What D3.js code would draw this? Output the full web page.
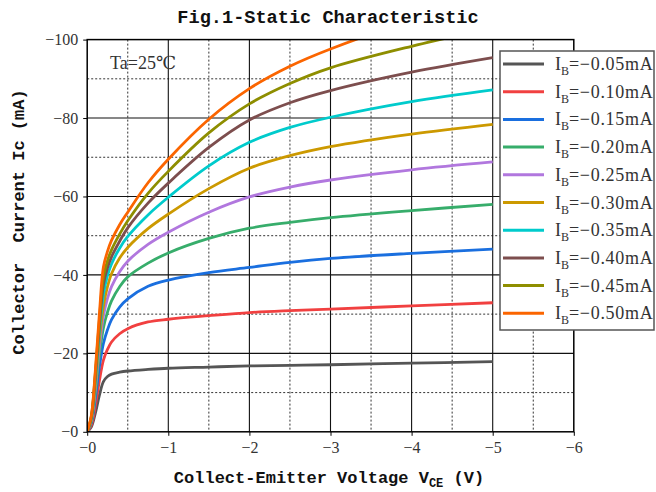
<!DOCTYPE html>
<html><head><meta charset="utf-8">
<script src="https://cdn.jsdelivr.net/npm/d3@7"></script>
<style>body{margin:0;background:#fff;} svg{display:block;}</style>
</head><body><svg id="c" width="656" height="492"></svg>
<script>
// Collector-emitter voltage (V)
const vce = [0, -0.05, -0.1, -0.15, -0.2, -0.25, -0.3, -0.4, -0.5, -0.75, -1, -1.5, -2, -2.5, -3, -4, -5];
// Collector current (mA) for each base current
const ib005 = [0, -1.2, -4.7, -9.3, -12.8, -14.1, -14.7, -15.2, -15.5, -15.9, -16.2, -16.5, -16.8, -16.95, -17.1, -17.5, -17.9];
const ib010 = [0, -1.6, -6.5, -13, -18.3, -21, -22.9, -25, -26.3, -28, -28.7, -29.6, -30.4, -30.9, -31.3, -32.1, -32.9];
const ib015 = [0, -2.2, -8.5, -16.5, -22.5, -26, -28.6, -31.8, -33.9, -37.1, -38.7, -40.6, -41.9, -43.2, -44.2, -45.5, -46.6];
const ib020 = [0, -2.6, -10, -19.5, -26.5, -30.5, -33.4, -37, -39.5, -43, -45.6, -49.3, -51.9, -53.4, -54.6, -56.4, -58];
const ib025 = [0, -2.9, -11, -21.5, -29.5, -34, -37, -40.8, -43.5, -47.8, -50.9, -56, -59.9, -62.4, -64.2, -66.8, -68.8];
const ib030 = [0, -3.1, -12, -23.5, -32, -37, -40.3, -44.3, -47, -51.8, -55.5, -62, -67.2, -70.4, -72.7, -75.9, -78.4];
const ib035 = [0, -3.4, -13, -25.5, -35, -39.8, -42.8, -46.8, -49.8, -55.3, -59.8, -67.8, -73.8, -77.6, -80.2, -84.2, -87.2];
const ib040 = [0, -3.6, -14, -27, -37.5, -41.8, -44.6, -48.6, -52, -58.3, -63.4, -72.5, -79.5, -83.9, -87, -91.7, -95.4];
const ib045 = [0, -3.8, -14.8, -28.5, -39.5, -43.6, -46.4, -50.4, -53.8, -60.8, -66.4, -76.2, -83.6, -88.8, -92.8, -98.3, -103];
const ib050 = [0, -4, -15.5, -30, -42, -46, -48.8, -52.8, -56, -63.5, -69.5, -79.7, -87.5, -93.2, -97.6, -104.8, -110];
const seriesValues = [ib005, ib010, ib015, ib020, ib025, ib030, ib035, ib040, ib045, ib050];
const seriesLabels = ["=\u22120.05mA", "=\u22120.10mA", "=\u22120.15mA", "=\u22120.20mA", "=\u22120.25mA",
                      "=\u22120.30mA", "=\u22120.35mA", "=\u22120.40mA", "=\u22120.45mA", "=\u22120.50mA"];
const colors = ["#555555", "#f14040", "#1a6fdf", "#37ad6b", "#b177de", "#cc9900", "#00cbcc", "#7d4e4e", "#8e8e00", "#fb6500"];
const xTicks = [0, -1, -2, -3, -4, -5, -6];
const yTicks = [0, -20, -40, -60, -80, -100];
const xMinor = [-0.5, -1.5, -2.5, -3.5, -4.5, -5.5];
const yMinor = [-10, -30, -50, -70, -90];

const svg = d3.select("#c");
const x = d3.scaleLinear().domain([0, -6]).range([87.2, 573.8]);
const y = d3.scaleLinear().domain([0, -100]).range([431.8, 39.6]);
const fmt = d => "\u2212" + Math.abs(d);

const X0 = x(0), X1 = x(-6), Y0 = y(0), Y1 = y(-100);

// grid
const g = svg.append("g");
g.selectAll(".xm").data(xMinor).join("line")
  .attr("x1", d => x(d)).attr("x2", d => x(d)).attr("y1", Y1).attr("y2", Y0)
  .attr("stroke", "#333").attr("stroke-width", 1).attr("stroke-dasharray", "2,2");
g.selectAll(".ym").data(yMinor).join("line")
  .attr("y1", d => y(d)).attr("y2", d => y(d)).attr("x1", X0).attr("x2", X1)
  .attr("stroke", "#333").attr("stroke-width", 1).attr("stroke-dasharray", "2,2");
g.selectAll(".xM").data(xTicks.slice(1, -1)).join("line")
  .attr("x1", d => x(d)).attr("x2", d => x(d)).attr("y1", Y1).attr("y2", Y0)
  .attr("stroke", "#111").attr("stroke-width", 1.1);
g.selectAll(".yM").data(yTicks.slice(1, -1)).join("line")
  .attr("y1", d => y(d)).attr("y2", d => y(d)).attr("x1", X0).attr("x2", X1)
  .attr("stroke", "#111").attr("stroke-width", 1.1);

// clip
svg.append("clipPath").attr("id", "pc").append("rect")
  .attr("x", X0).attr("y", Y1).attr("width", X1 - X0).attr("height", Y0 - Y1);

const line = d3.line().x(d => x(d[0])).y(d => y(d[1])).curve(d3.curveCatmullRom.alpha(0.5));
svg.append("g").attr("clip-path", "url(#pc)")
  .selectAll("path").data(seriesValues).join("path")
  .attr("d", s => line(vce.map((v, i) => [v, s[i]])))
  .attr("fill", "none").attr("stroke", (s, i) => colors[i]).attr("stroke-width", 2.8)
  .attr("stroke-linejoin", "round");

// frame
svg.append("rect").attr("x", X0).attr("y", Y1).attr("width", X1 - X0).attr("height", Y0 - Y1)
  .attr("fill", "none").attr("stroke", "#000").attr("stroke-width", 1.5);

// axes
const xa = svg.append("g").attr("transform", `translate(0,${Y0})`)
  .call(d3.axisBottom(x).tickValues(xTicks).tickFormat(fmt).tickSize(4).tickPadding(6));
const ya = svg.append("g").attr("transform", `translate(${X0},0)`)
  .call(d3.axisLeft(y).tickValues(yTicks).tickFormat(fmt).tickSize(4).tickPadding(5));
[xa, ya].forEach(a => {
  a.select(".domain").remove();
  a.selectAll(".tick line").attr("stroke", "#000");
  a.selectAll(".tick text").attr("font-family", "'Liberation Serif', serif")
    .attr("font-size", 16).attr("fill", "#333");
});

// titles
svg.append("text").attr("x", 328).attr("y", 23).attr("text-anchor", "middle")
  .attr("font-family", "'Liberation Mono', monospace").attr("font-weight", "bold")
  .attr("font-size", 18.6).attr("fill", "#111").text("Fig.1-Static Characteristic");

svg.append("text").attr("transform", "translate(24,222) rotate(-90)").attr("text-anchor", "middle")
  .attr("font-family", "'Liberation Mono', monospace").attr("font-weight", "bold")
  .attr("font-size", 17).attr("fill", "#111").style("white-space", "pre")
  .text("Collector  Current Ic (mA)");

const xl = svg.append("text").attr("x", 329).attr("y", 483).attr("text-anchor", "middle")
  .attr("font-family", "'Liberation Mono', monospace").attr("font-weight", "bold")
  .attr("font-size", 17).attr("fill", "#111").style("white-space", "pre");
xl.append("tspan").text("Collect-Emitter Voltage V");
xl.append("tspan").attr("font-size", 12).attr("dy", 4).text("CE");
xl.append("tspan").attr("dy", -4).text(" (V)");

svg.append("text").attr("x", 110).attr("y", 69)
  .attr("font-family", "'Liberation Serif', 'DejaVu Serif', serif").attr("font-size", 18)
  .attr("fill", "#333").text("Ta=25\u2103");

// legend
const lg = svg.append("g");
lg.append("rect").attr("x", 500).attr("y", 51).attr("width", 154).attr("height", 279)
  .attr("fill", "#fff").attr("stroke", "#555").attr("stroke-width", 1.5);
const items = lg.selectAll(".it").data(seriesLabels).join("g")
  .attr("transform", (d, i) => `translate(0,${64 + i * 27.7})`);
items.append("line").attr("x1", 503).attr("x2", 544).attr("y1", 0).attr("y2", 0)
  .attr("stroke", (d, i) => colors[i]).attr("stroke-width", 3);
const lt = items.append("text").attr("x", 555).attr("y", 6)
  .attr("font-family", "'Liberation Serif', serif").attr("font-size", 18).attr("fill", "#333");
lt.append("tspan").text("I");
lt.append("tspan").attr("font-size", 12).attr("dy", 5).text("B");
lt.append("tspan").attr("dy", -5).attr("letter-spacing", 0.7).text(d => d);
</script></body></html>
